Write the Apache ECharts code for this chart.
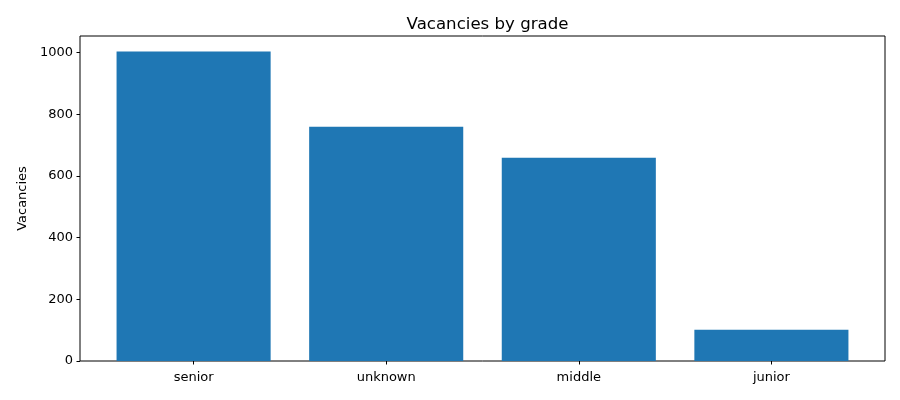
<!DOCTYPE html>
<html>
<head>
<meta charset="utf-8">
<script src="https://cdn.jsdelivr.net/npm/echarts@6/dist/echarts.min.js"></script>
<style>
html,body{margin:0;padding:0;background:#fff;}
#chart{width:900px;height:400px;}
</style>
</head>
<body>
<div id="chart"></div>
<script>
const categories = ['senior', 'unknown', 'middle', 'junior'];
const vacancies = [1004, 760, 659, 101];
const yTicks = [0, 200, 400, 600, 800, 1000];
const titleText = 'Vacancies by grade';
const yName = 'Vacancies';

const chart = echarts.init(document.getElementById('chart'), null, {renderer: 'canvas'});
const font = 'DejaVu Sans';
const yMax = 1054;
chart.setOption({
  animation: false,
  backgroundColor: '#fff',
  title: {
    text: titleText, left: 482.5, textAlign: 'center', top: 11,
    textStyle: {fontFamily: font, fontSize: 16.6, fontWeight: 'normal', color: '#000'}
  },
  grid: [
    {left: 80, right: 15, top: 36, bottom: 39, show: true, borderColor: '#000', borderWidth: 1, backgroundColor: 'transparent'},
    {left: 97.3, right: 32.3, top: 36, bottom: 39}
  ],
  xAxis: [
    {gridIndex: 0, type: 'value', min: 0, max: 1, show: false},
    {gridIndex: 1, type: 'category', data: categories, boundaryGap: true,
     axisLine: {show: false},
     axisTick: {show: true, alignWithLabel: true, length: 3.5, lineStyle: {color: '#000', width: 1}},
     axisLabel: {fontFamily: font, fontSize: 13, color: '#000', margin: 10},
     splitLine: {show: false}}
  ],
  yAxis: [
    {gridIndex: 0, type: 'value', min: 0, max: yMax,
     name: yName, nameLocation: 'middle', nameGap: 49.5, nameRotate: 90,
     nameTextStyle: {fontFamily: font, fontSize: 13, color: '#000'},
     axisLine: {show: false},
     axisTick: {show: true, length: 3.5, customValues: yTicks, lineStyle: {color: '#000', width: 1}},
     axisLabel: {fontFamily: font, fontSize: 13, color: '#000', margin: 7, customValues: yTicks,
                 formatter: function (v) { return String(v); }},
     splitLine: {show: false}},
    {gridIndex: 1, type: 'value', min: 0, max: yMax, show: false}
  ],
  series: [{
    type: 'bar', xAxisIndex: 1, yAxisIndex: 1,
    data: vacancies, barWidth: '80%',
    itemStyle: {color: '#1f77b4', borderWidth: 0}
  }]
});
</script>
</body>
</html>
